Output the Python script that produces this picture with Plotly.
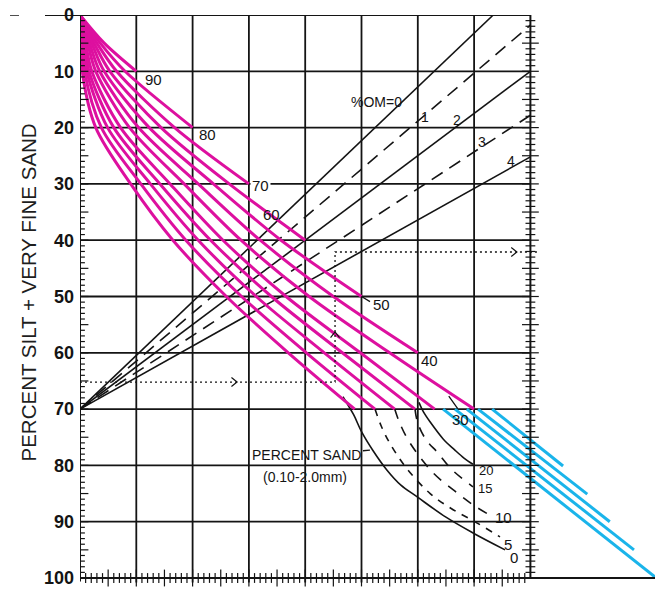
import plotly.graph_objects as go

# ------------------------------------------------------------------
# Data (x: horizontal chart units, y: percent silt + very fine sand)
# ------------------------------------------------------------------
y_levels = [0, 5, 10, 20, 30, 40, 50, 60, 70]

# percent-sand curves (magenta part), x at each y level
sand90_x = [0, 4.3, 10.0]
sand80_x = [0, 3.6, 8.0, 20.0]
sand70_x = [0, 3.0, 6.5, 16.8, 30.0]
sand60_x = [0, 2.5, 5.3, 14.4, 26.5, 40.0]
sand50_x = [0, 2.1, 4.3, 12.3, 23.7, 35.7, 50.0]
sand40_x = [0, 1.7, 3.5, 10.4, 21.0, 32.0, 45.0, 60.0]
sand30_x = [0, 1.35, 2.8, 8.8, 18.5, 28.6, 40.7, 55.0, 70.0]
sand20_x = [0, 1.0, 2.1, 7.2, 16.0, 25.4, 36.6, 49.8, 63.0]
sand15_x = [0, 0.8, 1.6, 6.0, 14.2, 23.2, 34.0, 46.6, 59.5]
sand10_x = [0, 0.6, 1.2, 4.9, 12.5, 21.0, 31.3, 43.4, 55.9]
sand05_x = [0, 0.4, 0.8, 3.8, 10.8, 18.8, 28.7, 40.2, 52.4]
sand00_x = [0, 0.2, 0.4, 2.8, 9.0, 16.5, 26.0, 37.0, 48.8]
magenta_curves = [sand90_x, sand80_x, sand70_x, sand60_x, sand50_x, sand40_x,
                  sand30_x, sand20_x, sand15_x, sand10_x, sand05_x, sand00_x]

# black continuations below 70 (percent sand 0, 5, 10, 15, 20)
low0_x = [46.7, 48.6, 50.0, 52.0, 54.5, 57.0, 59.9, 65.0, 69.8, 75.5]
low0_y = [67.8, 71.0, 74.0, 77.3, 80.8, 83.5, 85.6, 89.2, 92.0, 95.0]
low5_x = [52.4, 53.5, 55.0, 58.0, 62.2, 66.0, 69.8, 74.6]
low5_y = [70.0, 73.0, 76.0, 80.5, 85.0, 87.7, 89.8, 92.7]
low10_x = [55.9, 56.8, 58.6, 62.7, 66.5, 69.8, 73.6]
low10_y = [70.0, 72.5, 76.0, 81.3, 84.5, 87.0, 89.3]
low15_x = [59.5, 60.0, 61.5, 63.5, 66.0, 69.8]
low15_y = [70.0, 72.5, 75.5, 77.7, 80.7, 83.8]
low20_x = [60.2, 61.0, 62.2, 64.5, 66.5, 68.2, 69.8]
low20_y = [68.8, 70.5, 72.3, 75.3, 77.2, 78.7, 79.8]

# organic matter lines, all starting at (0, 70)
om_labels = ["%OM=0", "1", "2", "3", "4"]
om_start = [0, 70]
om_end_x = [73.4, 80, 80, 80, 80]
om_end_y = [0, 1.8, 10.0, 17.8, 25.2]
om_dashed = [False, True, False, True, False]
om_label_x = [52.6, 61.3, 67.0, 71.4, 76.6]
om_label_y = [15.45, 18.1, 18.65, 22.6, 25.9]

# cyan lines (lower right)
blue_start_x = [64.5, 66.6, 68.7, 70.7, 73.2]
blue_start_y = [70, 70, 70, 70, 70]
blue_end_x = [102.1, 98.4, 94.1, 90.1, 85.8]
blue_end_y = [99.8, 95.0, 90.0, 85.1, 80.1]

# dotted example path and its arrows
path_x = [0, 45.3, 45.3, 81.2]
path_y = [65.2, 65.2, 42.1, 42.1]
arrow_x = [27.9, 45.3, 77.6]
arrow_y = [65.2, 56.3, 42.1]
arrow_dir = ["right", "up", "right"]

# curve labels
sand_label_text = ["90", "80", "70", "60", "50", "40", "30", "20", "15", "10", "5", "0"]
sand_label_x = [13.05, 22.6, 32.0, 34.0, 53.6, 62.1, 67.5, 72.1, 71.9, 75.2, 76.1, 77.0]
sand_label_y = [11.4, 21.3, 30.2, 35.4, 51.4, 61.4, 71.9, 80.9, 84.1, 89.3, 94.05, 96.4]

y_tick_vals = [0, 10, 20, 30, 40, 50, 60, 70, 80, 90, 100]
y_tick_text = ["0", "10", "20", "30", "40", "50", "60", "70", "80", "90", "100"]
y_title = "PERCENT SILT + VERY FINE SAND"

# ------------------------------------------------------------------
PX = 5.63                      # pixels per chart unit
XMAX = 575 / PX
YMAX = 579 / PX
MAGENTA = "#dd109f"
CYAN = "#1ab4ea"
INK = "#141414"

fig = go.Figure()

# organic-matter lines
for ex, ey, dashed in zip(om_end_x, om_end_y, om_dashed):
    fig.add_trace(go.Scatter(x=[om_start[0], ex], y=[om_start[1], ey], mode="lines",
                             line=dict(color=INK, width=1.6, dash="13px,8px" if dashed else "solid"),
                             hoverinfo="skip"))

# black lower sand curves
for xs, ys, dash in [(low0_x, low0_y, "solid"), (low5_x, low5_y, "7px,7px"),
                     (low10_x, low10_y, "10px,9px"), (low15_x, low15_y, "10px,9px"),
                     (low20_x, low20_y, "solid")]:
    fig.add_trace(go.Scatter(x=xs, y=ys, mode="lines", line_shape="spline",
                             line=dict(color=INK, width=1.6, dash=dash), hoverinfo="skip"))

# magenta sand curves
for xs in magenta_curves:
    fig.add_trace(go.Scatter(x=xs, y=y_levels[:len(xs)], mode="lines", line_shape="spline",
                             line=dict(color=MAGENTA, width=3, smoothing=0.9), hoverinfo="skip"))

# cyan lines
for x0, y0, x1, y1 in zip(blue_start_x, blue_start_y, blue_end_x, blue_end_y):
    fig.add_trace(go.Scatter(x=[x0, x1], y=[y0, y1], mode="lines",
                             line=dict(color=CYAN, width=3), hoverinfo="skip"))

# dotted path + chevrons
fig.add_trace(go.Scatter(x=path_x, y=path_y, mode="lines",
                         line=dict(color=INK, width=1.3, dash="2px,3px"), hoverinfo="skip"))
for ax_, ay_, d in zip(arrow_x, arrow_y, arrow_dir):
    if d == "right":
        cx, cy = [ax_ - 1.0, ax_, ax_ - 1.0], [ay_ - 0.8, ay_, ay_ + 0.8]
    else:
        cx, cy = [ax_ - 0.8, ax_, ax_ + 0.8], [ay_ + 1.0, ay_, ay_ + 1.0]
    fig.add_trace(go.Scatter(x=cx, y=cy, mode="lines", line=dict(color=INK, width=1.2),
                             hoverinfo="skip"))

# crossing axis ticks
def tick_trace(xs, ys, symbol, size):
    return go.Scatter(x=xs, y=ys, mode="markers", hoverinfo="skip",
                      marker=dict(symbol=symbol, size=size, color=INK,
                                  line=dict(color=INK, width=1.2)))

minor = [v for v in range(1, 100) if v % 5 != 0]
major = [v for v in range(5, 100, 5)]
fig.add_trace(tick_trace([0] * len(minor), minor, "line-ew", 7))
fig.add_trace(tick_trace([0] * len(major), major, "line-ew", 12))
fig.add_trace(tick_trace([80] * len(minor), minor, "line-ew", 7))
fig.add_trace(tick_trace([80] * len(major), major, "line-ew", 12))
bminor = [v for v in range(1, 80) if v % 5 != 0]
bmajor = [v for v in range(5, 80, 5)]
fig.add_trace(tick_trace(bminor, [100] * len(bminor), "line-ns", 7))
fig.add_trace(tick_trace(bmajor, [100] * len(bmajor), "line-ns", 12))

# grid and frame
shapes = []
for gx in range(10, 80, 10):
    shapes.append(dict(type="line", xref="x", yref="y", x0=gx, x1=gx, y0=0, y1=100.8,
                       line=dict(color=INK, width=1.8), layer="below"))
for gy in range(10, 100, 10):
    shapes.append(dict(type="line", xref="x", yref="y", x0=0, x1=80, y0=gy, y1=gy,
                       line=dict(color=INK, width=1.8), layer="below"))
shapes += [
    dict(type="line", xref="x", yref="y", x0=0, x1=0, y0=0, y1=100.6, line=dict(color=INK, width=2)),
    dict(type="line", xref="x", yref="y", x0=80, x1=80, y0=0, y1=100, line=dict(color=INK, width=2)),
    dict(type="line", xref="x", yref="y", x0=0, x1=XMAX, y0=100, y1=100, line=dict(color=INK, width=2)),
    dict(type="line", xref="paper", yref="y", x0=-35 / 575, x1=80 / XMAX, y0=0, y1=0,
         line=dict(color=INK, width=2)),
    dict(type="line", xref="paper", yref="y", x0=-70 / 575, x1=-61 / 575, y0=0, y1=0,
         line=dict(color=INK, width=1.5)),
]

ann = []
lab_font = dict(family="Liberation Sans", size=15, color=INK)
for t, x, y in zip(sand_label_text, sand_label_x, sand_label_y):
    a = dict(x=x, y=y, xref="x", yref="y", text=t, showarrow=False, font=lab_font)
    if t == "70":
        a.update(bgcolor="white", borderpad=1)
    if t in ("20", "15"):
        a["font"] = dict(family="Liberation Sans", size=13, color=INK)
    ann.append(a)
# leaders
ann.append(dict(x=50, y=50, xref="x", yref="y", text="", showarrow=True, arrowhead=0,
                arrowwidth=1.3, arrowcolor=INK, ax=10, ay=6))
ann.append(dict(x=65.5, y=67.7, xref="x", yref="y", text="", showarrow=True, arrowhead=0,
                arrowwidth=1.3, arrowcolor=INK, ax=10, ay=14))
for t, x, y in zip(om_labels, om_label_x, om_label_y):
    ann.append(dict(x=x, y=y, xref="x", yref="y", text=t, showarrow=False,
                    font=dict(family="Liberation Sans", size=14, color=INK)))
ann.append(dict(x=51.5, y=77.3, xref="x", yref="y", text="PERCENT SAND", showarrow=True,
                arrowhead=0, arrowwidth=1.3, arrowcolor=INK, ax=-63, ay=5,
                font=dict(family="Liberation Sans", size=14, color=INK)))
ann.append(dict(x=39.96, y=82.06, xref="x", yref="y", text="(0.10-2.0mm)", showarrow=False,
                font=dict(family="Liberation Sans", size=14, color=INK)))
ann.append(dict(x=(27.5 - 80) / 575, y=1 - (293 - 15) / 579, xref="paper", yref="paper",
                text=y_title, textangle=-90, showarrow=False, xanchor="center", yanchor="middle",
                font=dict(family="Liberation Sans", size=20.5, color="#1e1e1e")))

fig.update_layout(
    width=655, height=594, margin=dict(l=80, r=0, t=15, b=0),
    plot_bgcolor="white", paper_bgcolor="white", showlegend=False,
    shapes=shapes, annotations=ann, hovermode=False,
)
fig.update_xaxes(range=[0, XMAX], visible=False)
fig.update_yaxes(range=[YMAX, 0], tickvals=y_tick_vals, ticktext=y_tick_text, ticks="",
                 showgrid=False, zeroline=False, showline=False, ticklabelstandoff=5,
                 tickfont=dict(family="Liberation Sans", size=18, color=INK, weight="bold"))

fig.write_html("out.html")
